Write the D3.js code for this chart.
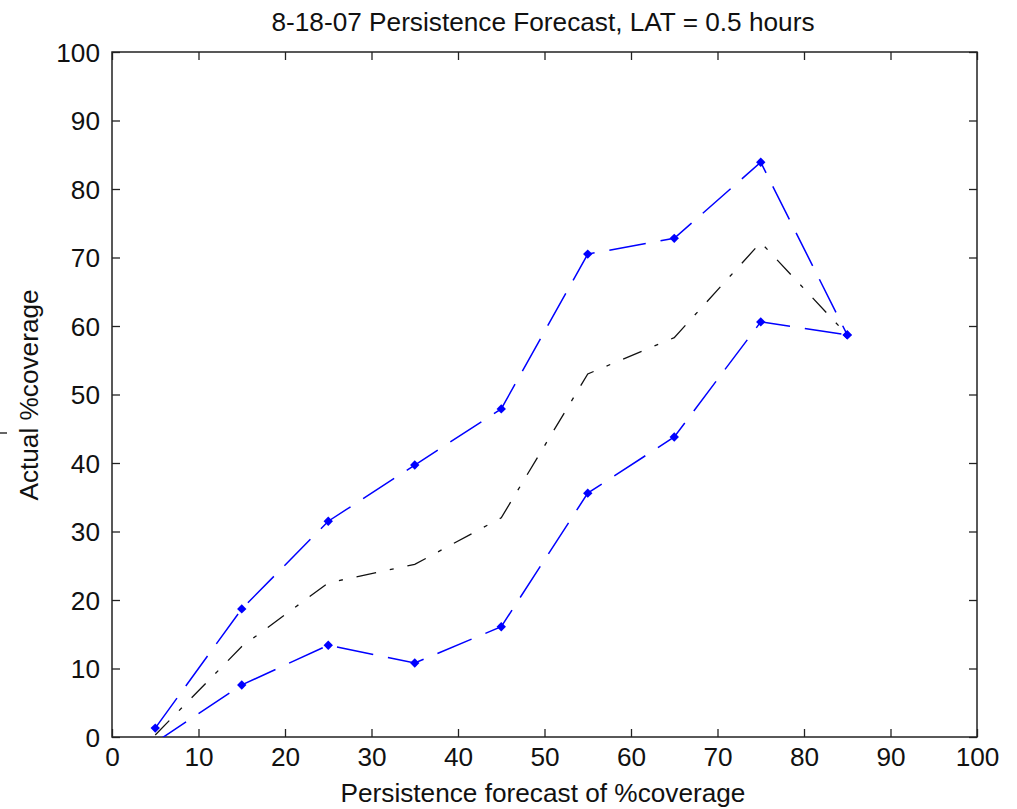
<!DOCTYPE html>
<html>
<head>
<meta charset="utf-8">
<script src="https://cdn.jsdelivr.net/npm/d3@7"></script>
<style>
  body { margin: 0; background: #fff; }
  text { font-family: "Liberation Sans", Arial, sans-serif; fill: #111; }
</style>
</head>
<body>
<div id="chart"></div>
<script>
// forecast bins (x) and the three series
let bins = [5, 15, 25, 35, 45, 55, 65, 75, 85];
let upper = [1.3, 18.7, 31.5, 39.7, 47.9, 70.5, 72.8, 83.9, 58.7];
let mean = [0.3, 13.2, 22.5, 25.2, 32.0, 53.0, 58.3, 72.2, 58.7];
let lower = [-0.8, 7.6, 13.4, 10.8, 16.1, 35.6, 43.8, 60.6, 58.7];
let xTicks = [0, 10, 20, 30, 40, 50, 60, 70, 80, 90, 100];
let yTicks = [0, 10, 20, 30, 40, 50, 60, 70, 80, 90, 100];

let width = 1017, height = 809;
let margin = {top: 52, right: 40, bottom: 72, left: 112};
let w = width - margin.left - margin.right;
let h = height - margin.top - margin.bottom;
let fontSize = 25;

let svg = d3.select("#chart").append("svg")
	.attr("width", width)
	.attr("height", height);

let g = svg.append("g")
	.attr("transform", "translate(" + margin.left + "," + margin.top + ")");

let x = d3.scaleLinear().domain([0, 100]).range([0, w]);
let y = d3.scaleLinear().domain([0, 100]).range([h, 0]);

// clip data to the axes box
svg.append("defs").append("clipPath").attr("id", "box")
	.append("rect").attr("width", w).attr("height", h);

// axes: ticks point inward, on all four sides
let tickLen = 8;
g.append("g").attr("class", "x-axis")
	.attr("transform", "translate(0," + h + ")")
	.call(d3.axisBottom(x).tickValues(xTicks).tickSizeInner(-tickLen).tickSizeOuter(0).tickPadding(11));
g.append("g").attr("class", "x-top")
	.call(d3.axisTop(x).tickValues(xTicks).tickSizeInner(-tickLen).tickSizeOuter(0).tickFormat(""));
g.append("g").attr("class", "y-axis")
	.call(d3.axisLeft(y).tickValues(yTicks).tickSizeInner(-tickLen).tickSizeOuter(0).tickPadding(12));
g.append("g").attr("class", "y-right")
	.attr("transform", "translate(" + w + ",0)")
	.call(d3.axisRight(y).tickValues(yTicks).tickSizeInner(-tickLen).tickSizeOuter(0).tickFormat(""));

g.selectAll(".domain").remove();
g.selectAll(".tick line").attr("stroke", "#222").attr("stroke-width", 1.3);
g.selectAll(".x-axis .tick text").attr("font-size", fontSize).attr("dy", "0.71em");
g.selectAll(".y-axis .tick text").attr("font-size", fontSize).attr("dy", "0.36em");

g.append("rect")
	.attr("width", w).attr("height", h)
	.attr("fill", "none").attr("stroke", "#222").attr("stroke-width", 1.5);

// lines
let plot = g.append("g").attr("clip-path", "url(#box)");
let line = d3.line().x((d, i) => x(bins[i])).y(d => y(d));

plot.append("path").datum(mean)
	.attr("d", line)
	.attr("fill", "none").attr("stroke", "#111").attr("stroke-width", 1.3)
	.attr("stroke-dasharray", "20,14,4,14");

[upper, lower].forEach(function(series) {
	plot.append("path").datum(series)
		.attr("d", line)
		.attr("fill", "none").attr("stroke", "#0000ff").attr("stroke-width", 1.5)
		.attr("stroke-dasharray", "37,15");

	plot.selectAll(null).data(series).enter().append("path")
		.attr("d", d3.symbol().type(d3.symbolSquare).size(44))
		.attr("transform", (d, i) => "translate(" + x(bins[i]) + "," + y(d) + ") rotate(45)")
		.attr("fill", "#0000ff");
});

// titles
svg.append("text")
	.attr("class", "title")
	.attr("x", 543).attr("y", 31)
	.attr("text-anchor", "middle").attr("font-size", fontSize)
	.text("8-18-07 Persistence Forecast, LAT = 0.5 hours");

svg.append("text")
	.attr("class", "xlabel")
	.attr("x", 543).attr("y", 802)
	.attr("text-anchor", "middle").attr("font-size", fontSize)
	.text("Persistence forecast of %coverage");

svg.append("text")
	.attr("class", "ylabel")
	.attr("transform", "translate(38,395) rotate(-90)")
	.attr("text-anchor", "middle").attr("font-size", fontSize)
	.text("Actual %coverage");

// the reference text looks squeezed horizontally; match its widths
let squeeze = 543 / svg.select(".title").node().getComputedTextLength();
svg.selectAll("text").each(function() {
	let len = this.getComputedTextLength();
	d3.select(this).attr("textLength", len * squeeze).attr("lengthAdjust", "spacingAndGlyphs");
});

// small stray mark at the left edge
svg.append("line")
	.attr("x1", 0).attr("x2", 7).attr("y1", 433).attr("y2", 433)
	.attr("stroke", "#333").attr("stroke-width", 1.5);
</script>
</body>
</html>
